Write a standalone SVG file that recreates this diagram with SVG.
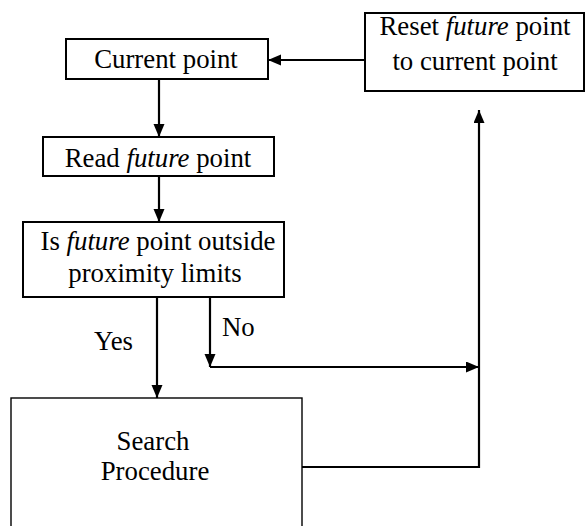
<svg xmlns="http://www.w3.org/2000/svg" width="588" height="526" viewBox="0 0 588 526">
  <style>
    .box { fill: #ffffff; stroke: #000000; stroke-width: 2; }
    .thin { stroke-width: 1.4; }
    .lbl { font-family: "Liberation Serif", "Times New Roman", serif; font-size: 26.8px; fill: #000000; text-anchor: middle; }
    .lbl-left { font-family: "Liberation Serif", "Times New Roman", serif; font-size: 26.8px; fill: #000000; }
    .wire { fill: none; stroke: #000000; stroke-width: 2.2; }
  </style>
  <defs>
    <marker id="head" markerUnits="userSpaceOnUse" markerWidth="14" markerHeight="12" refX="13" refY="5.5" orient="auto">
      <path d="M0,0 L13,5.5 L0,11 Z" fill="#000000"/>
    </marker>
  </defs>
  <rect width="588" height="526" fill="#ffffff"/>

  <g id="current-point">
    <rect class="box" x="66" y="39" width="202" height="40"/>
    <text class="lbl" x="166" y="68">Current point</text>
  </g>

  <g id="reset-point">
    <rect class="box" x="365" y="13" width="219" height="78"/>
    <text class="lbl" x="475" y="35">Reset <tspan font-style="italic">future</tspan> point</text>
    <text class="lbl" x="475" y="70">to current point</text>
  </g>

  <g id="read-future">
    <rect class="box" x="43" y="137" width="231" height="39"/>
    <text class="lbl" x="158" y="167">Read <tspan font-style="italic">future</tspan> point</text>
  </g>

  <g id="outside-check">
    <rect class="box" x="23" y="222" width="261" height="75"/>
    <text class="lbl" x="158" y="250">Is <tspan font-style="italic">future</tspan> point outside</text>
    <text class="lbl" x="155" y="282">proximity limits</text>
  </g>

  <g id="search-procedure">
    <rect class="box thin" x="11" y="398" width="291" height="150"/>
    <text class="lbl" x="153" y="450">Search</text>
    <text class="lbl" x="155" y="480">Procedure</text>
  </g>

  <g id="connectors">
    <line class="wire" x1="159" y1="79" x2="159" y2="137" marker-end="url(#head)"/>
    <line class="wire" x1="159" y1="176" x2="159" y2="222" marker-end="url(#head)"/>
    <line class="wire" x1="157" y1="297" x2="157" y2="398" marker-end="url(#head)"/>
    <line class="wire" x1="210" y1="297" x2="210" y2="367" marker-end="url(#head)"/>
    <line class="wire" x1="210" y1="367" x2="479" y2="367" marker-end="url(#head)"/>
    <polyline class="wire" points="302,467 479,467 479,110" marker-end="url(#head)"/>
    <line class="wire" x1="365" y1="60" x2="268" y2="60" marker-end="url(#head)"/>
    <text class="lbl-left" x="94" y="350">Yes</text>
    <text class="lbl-left" x="222" y="336">No</text>
  </g>
</svg>
